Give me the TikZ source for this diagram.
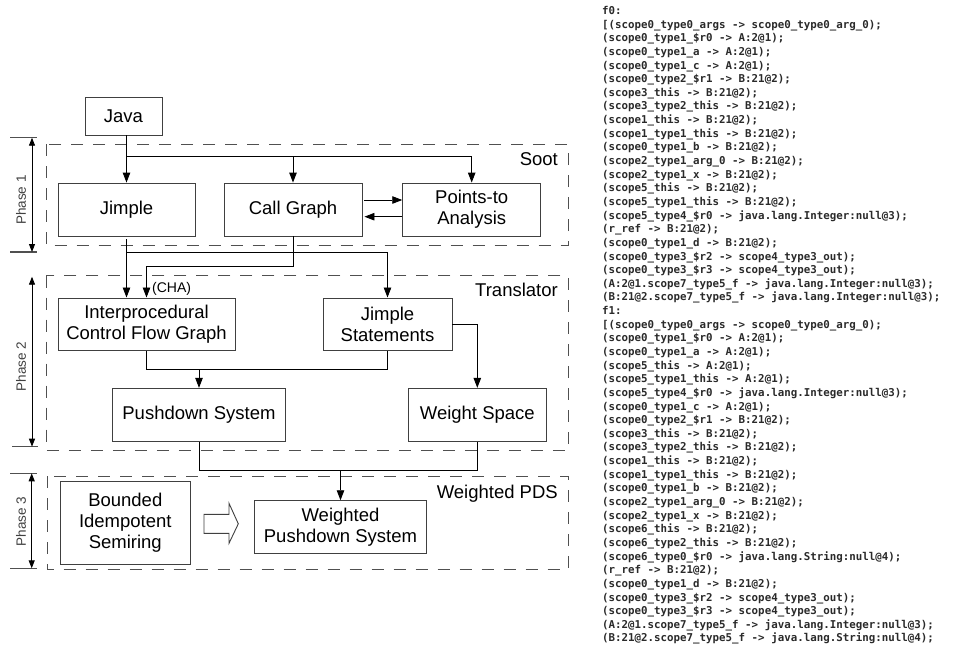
\documentclass[tikz,border=0pt]{standalone}
\usepackage{fontspec}
\setmainfont{Liberation Sans}
\newfontfamily\lstfont{DejaVu Sans Mono}
\usetikzlibrary{arrows.meta}
\definecolor{boxgray}{HTML}{404040}
\definecolor{dashgray}{HTML}{505050}
\definecolor{lstgray}{HTML}{2A2A2A}
\begin{document}
\begin{tikzpicture}[x=1pt,y=-1pt,
  box/.style={draw=boxgray, line width=0.9pt, fill=white, rectangle, inner sep=0pt, align=center, font=\fontsize{18.5}{21}\selectfont},
  phasebox/.style={draw=dashgray, line width=0.9pt, dash pattern=on 12pt off 10pt},
  arr/.style={-{Triangle[length=10pt,width=7.5pt]}, line width=0.9pt, black},
  link/.style={line width=0.9pt, black},
  tick/.style={draw=dashgray, line width=1.2pt},
  dim/.style={{Triangle[length=8pt,width=6pt]}-{Triangle[length=8pt,width=6pt]}, line width=0.9pt, black},
  phaselabel/.style={rotate=90, font=\fontsize{13.5}{16}\selectfont, inner sep=0pt, text=boxgray},
  region/.style={anchor=base east, font=\fontsize{18.5}{21}\selectfont, inner sep=0pt},
  lst/.style={anchor=base west, inner sep=0pt, font=\lstfont\bfseries\fontsize{10.8}{13}\selectfont, text=lstgray}]
\fill[white] (0,0) rectangle (955,645);
\useasboundingbox (0,0) rectangle (955,645);

% phase regions
\draw[phasebox] (46,144) rectangle (568,245.5);
\draw[phasebox] (46,275.5) rectangle (568,450.7);
\draw[phasebox] (47,476) rectangle (568,569.3);
\node[region] (soot) at (558,165) {Soot};
\node[region] (transl) at (558,296.6) {Translator};
\node[region] (wpdslab) at (558,498.3) {Weighted PDS};

% phase dimension lines
\draw[tick] (10,137.7) -- (37,137.7);
\draw[tick] (10,252) -- (37,252);
\draw[dim] (32,137.7) -- (32,252);
\node[phaselabel] (ph1) at (21,200) {Phase 1};
\draw[tick] (12,446.7) -- (38,446.7);
\draw[dim] (32,276.7) -- (32,446.7);
\node[phaselabel] (ph2) at (21,366.7) {Phase 2};
\draw[tick] (10,473.3) -- (37,473.3);
\draw[tick] (10,568.3) -- (37,568.3);
\draw[dim] (31.7,473.3) -- (31.7,568.3);
\node[phaselabel] (ph3) at (21,521.7) {Phase 3};

% nodes
\node[box, minimum width=77pt, minimum height=38pt] (java) at (123.5,116) {Java};
\node[box, minimum width=137pt, minimum height=53pt] (jimple) at (126.5,209.5) {Jimple};
\node[box, minimum width=138pt, minimum height=53pt] (cg) at (293,209.5) {Call Graph};
\node[box, minimum width=138pt, minimum height=53pt] (pta) at (471.7,209.5) {Points-to\\Analysis};
\node[box, minimum width=177pt, minimum height=52.7pt] (icfg) at (146.5,324.3) {Interprocedural\\Control Flow Graph};
\node[box, minimum width=129pt, minimum height=52.7pt] (js) at (387.5,324.3) {Jimple\\Statements};
\node[box, minimum width=173.4pt, minimum height=53.4pt] (pds) at (199,415) {Pushdown System};
\node[box, minimum width=138pt, minimum height=53.4pt] (ws) at (477.3,415) {Weight Space};
\node[box, minimum width=130pt, minimum height=82.3pt] (bis) at (125.3,522.8) {Bounded\\Idempotent\\Semiring};
\node[box, minimum width=172.4pt, minimum height=52.6pt] (wpds) at (340.5,527) {Weighted\\Pushdown System};

% helper levels
\coordinate (y157) at (0,156.7);
\coordinate (y253) at (0,252.7);
\coordinate (y267) at (0,266.7);
\coordinate (y369) at (0,369.3);
\coordinate (y471) at (0,470.7);
\coordinate (b1) at (jimple.north |- y157);
\coordinate (b2) at (jimple.north |- y253);

% connectors phase 1
\draw[arr] (java.south -| jimple.north) -- (jimple.north);
\draw[arr] (b1) -| (pta.north);
\draw[arr] (b1 -| cg.north) -- (cg.north);
\draw[arr, shorten <=2pt] ([yshift=9.5pt]cg.east) -- ([yshift=9.5pt]pta.west);
\draw[arr, shorten >=2pt] ([yshift=-7.2pt]pta.west) -- ([yshift=-7.2pt]cg.east);

% connectors to phase 2
\draw[arr, shorten <=3pt] (jimple.south) -- (jimple.south |- icfg.north);
\draw[arr] (b2) -| (js.north);
\draw[arr] (cg.south) |- (icfg.north |- y267) -- (icfg.north);
\node[anchor=west, inner sep=0pt, font=\fontsize{14}{16}\selectfont] (cha) at (152,289) {(CHA)};

% phase 2
\draw[link] (icfg.south) |- (js.south |- y369) -- (js.south);
\draw[arr] (pds.north |- y369) -- (pds.north);
\draw[arr] (js.east) -| (ws.north);

% phase 3
\draw[link] (pds.south) |- (ws.south |- y471) -- (ws.south);
\draw[arr] (wpds.north |- y471) -- (wpds.north);
\draw[draw=boxgray, line width=0.9pt, fill=white] (204,514.3) -- (229,514.3) -- (229,503.3) -- (238.3,523.8) -- (229,543.3) -- (229,533.3) -- (204,533.3) -- cycle;

% listing
\foreach \t [count=\i from 0] in {
{f0:},
{[(scope0\_type0\_args -> scope0\_type0\_arg\_0);},
{(scope0\_type1\_\$r0 -> A:2@1);},
{(scope0\_type1\_a -> A:2@1);},
{(scope0\_type1\_c -> A:2@1);},
{(scope0\_type2\_\$r1 -> B:21@2);},
{(scope3\_this -> B:21@2);},
{(scope3\_type2\_this -> B:21@2);},
{(scope1\_this -> B:21@2);},
{(scope1\_type1\_this -> B:21@2);},
{(scope0\_type1\_b -> B:21@2);},
{(scope2\_type1\_arg\_0 -> B:21@2);},
{(scope2\_type1\_x -> B:21@2);},
{(scope5\_this -> B:21@2);},
{(scope5\_type1\_this -> B:21@2);},
{(scope5\_type4\_\$r0 -> java.lang.Integer:null@3);},
{(r\_ref -> B:21@2);},
{(scope0\_type1\_d -> B:21@2);},
{(scope0\_type3\_\$r2 -> scope4\_type3\_out);},
{(scope0\_type3\_\$r3 -> scope4\_type3\_out);},
{(A:2@1.scope7\_type5\_f -> java.lang.Integer:null@3);},
{(B:21@2.scope7\_type5\_f -> java.lang.Integer:null@3);},
{f1:},
{[(scope0\_type0\_args -> scope0\_type0\_arg\_0);},
{(scope0\_type1\_\$r0 -> A:2@1);},
{(scope0\_type1\_a -> A:2@1);},
{(scope5\_this -> A:2@1);},
{(scope5\_type1\_this -> A:2@1);},
{(scope5\_type4\_\$r0 -> java.lang.Integer:null@3);},
{(scope0\_type1\_c -> A:2@1);},
{(scope0\_type2\_\$r1 -> B:21@2);},
{(scope3\_this -> B:21@2);},
{(scope3\_type2\_this -> B:21@2);},
{(scope1\_this -> B:21@2);},
{(scope1\_type1\_this -> B:21@2);},
{(scope0\_type1\_b -> B:21@2);},
{(scope2\_type1\_arg\_0 -> B:21@2);},
{(scope2\_type1\_x -> B:21@2);},
{(scope6\_this -> B:21@2);},
{(scope6\_type2\_this -> B:21@2);},
{(scope6\_type0\_\$r0 -> java.lang.String:null@4);},
{(r\_ref -> B:21@2);},
{(scope0\_type1\_d -> B:21@2);},
{(scope0\_type3\_\$r2 -> scope4\_type3\_out);},
{(scope0\_type3\_\$r3 -> scope4\_type3\_out);},
{(A:2@1.scope7\_type5\_f -> java.lang.Integer:null@3);},
{(B:21@2.scope7\_type5\_f -> java.lang.String:null@4);}
}{
  \node[lst] (line\i) at (602,14.5+13.64*\i) {\t};
}
\end{tikzpicture}
\end{document}
